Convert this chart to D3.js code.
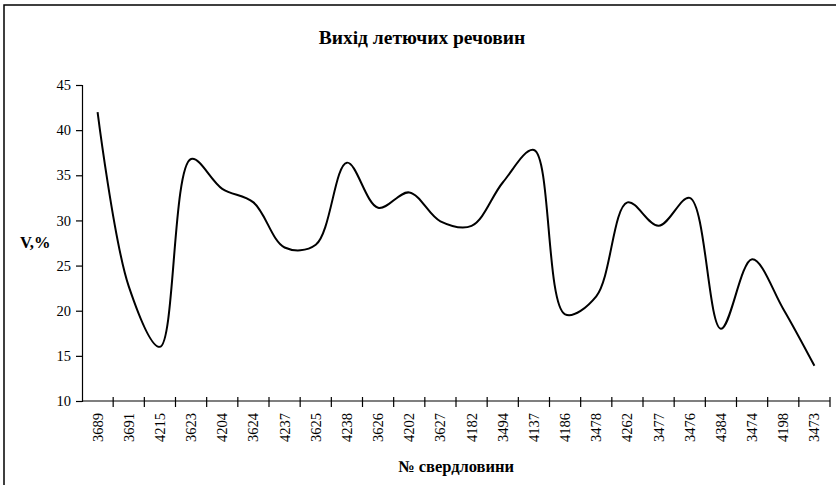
<!DOCTYPE html>
<html>
<head>
<meta charset="utf-8">
<script src="https://cdn.jsdelivr.net/npm/d3@7"></script>
<style>
  html, body { margin: 0; padding: 0; background: #fff; }
  svg { display: block; }
  text { font-family: "Liberation Serif", "Times New Roman", serif; fill: #000; }
</style>
</head>
<body>
<svg id="chart" width="836" height="485"></svg>
<script>
// Well numbers along the horizontal axis
const wells = ["3689", "3691", "4215", "3623", "4204", "3624", "4237", "3625",
  "4238", "3626", "4202", "3627", "4182", "3494", "4137", "4186",
  "3478", "4262", "3477", "3476", "4384", "3474", "4198", "3473"];

// Volatile matter yield, %
const volatiles = [42.0, 22.7, 16.0, 36.8, 33.5, 32.0, 27.0, 27.3,
  36.4, 31.4, 33.1, 29.9, 29.4, 34.2, 37.8, 19.6,
  21.6, 32.0, 29.4, 32.5, 18.0, 25.7, 20.2, 13.9];

const yTicks = [10, 15, 20, 25, 30, 35, 40, 45];

const titleText = "Вихід летючих речовин";
const yTitle = "V,%";
const xTitle = "№ свердловини";

const svg = d3.select("#chart");
const W = 836, H = 485;
const plot = { left: 82, right: 830, top: 85, bottom: 401 };

// outer frame of the chart area
svg.append("rect")
  .attr("x", 4).attr("y", 5)
  .attr("width", W + 10).attr("height", H + 10)
  .attr("fill", "none").attr("stroke", "#000").attr("stroke-width", 1.5);

const x = d3.scaleBand().domain(wells).range([plot.left, plot.right]).padding(0);
const y = d3.scaleLinear().domain([10, 45]).range([plot.bottom, plot.top]);

// y axis
const yAxis = svg.append("g")
  .attr("transform", `translate(${plot.left},0)`)
  .call(d3.axisLeft(y).tickValues(yTicks).tickSize(6).tickPadding(5).tickFormat(d3.format("d")));
yAxis.select(".domain").attr("stroke", "#000").attr("stroke-width", 1.2);
yAxis.selectAll(".tick line").attr("stroke", "#000").attr("stroke-width", 1.2);
yAxis.selectAll(".tick text")
  .style("font-family", "'Liberation Serif', serif")
  .style("font-size", "14.5px").attr("fill", "#000");

// x axis: tick marks sit on category boundaries and cross the axis line
const xg = svg.append("g").attr("transform", `translate(0,${plot.bottom})`);
xg.append("line")
  .attr("x1", plot.left).attr("x2", plot.right)
  .attr("stroke", "#000").attr("stroke-width", 1.2);
const boundaries = wells.map(w => x(w) + x.bandwidth());
xg.selectAll("line.tick")
  .data(boundaries)
  .join("line")
  .attr("class", "tick")
  .attr("x1", d => d).attr("x2", d => d)
  .attr("y1", -4).attr("y2", 6)
  .attr("stroke", "#000").attr("stroke-width", 1.2);
xg.selectAll("text.lbl")
  .data(wells)
  .join("text")
  .attr("class", "lbl")
  .attr("transform", d => `translate(${x(d) + x.bandwidth() / 2 + 5},12) rotate(-90)`)
  .attr("text-anchor", "end")
  .style("font-size", "14.5px")
  .text(d => d);

// smoothed data line
const line = d3.line()
  .x((d, i) => x(wells[i]) + x.bandwidth() / 2)
  .y(d => y(d))
  .curve(d3.curveCatmullRom.alpha(0.5));
svg.append("path")
  .datum(volatiles)
  .attr("d", line)
  .attr("fill", "none")
  .attr("stroke", "#000")
  .attr("stroke-width", 2);

// titles
svg.append("text")
  .attr("x", 422).attr("y", 44)
  .attr("text-anchor", "middle")
  .style("font-size", "19.5px").style("font-weight", "bold")
  .text(titleText);
svg.append("text")
  .attr("x", 20).attr("y", 248)
  .style("font-size", "16.5px").style("font-weight", "bold")
  .text(yTitle);
svg.append("text")
  .attr("x", 456).attr("y", 472)
  .attr("text-anchor", "middle")
  .style("font-size", "16.5px").style("font-weight", "bold")
  .text(xTitle);
</script>
</body>
</html>
